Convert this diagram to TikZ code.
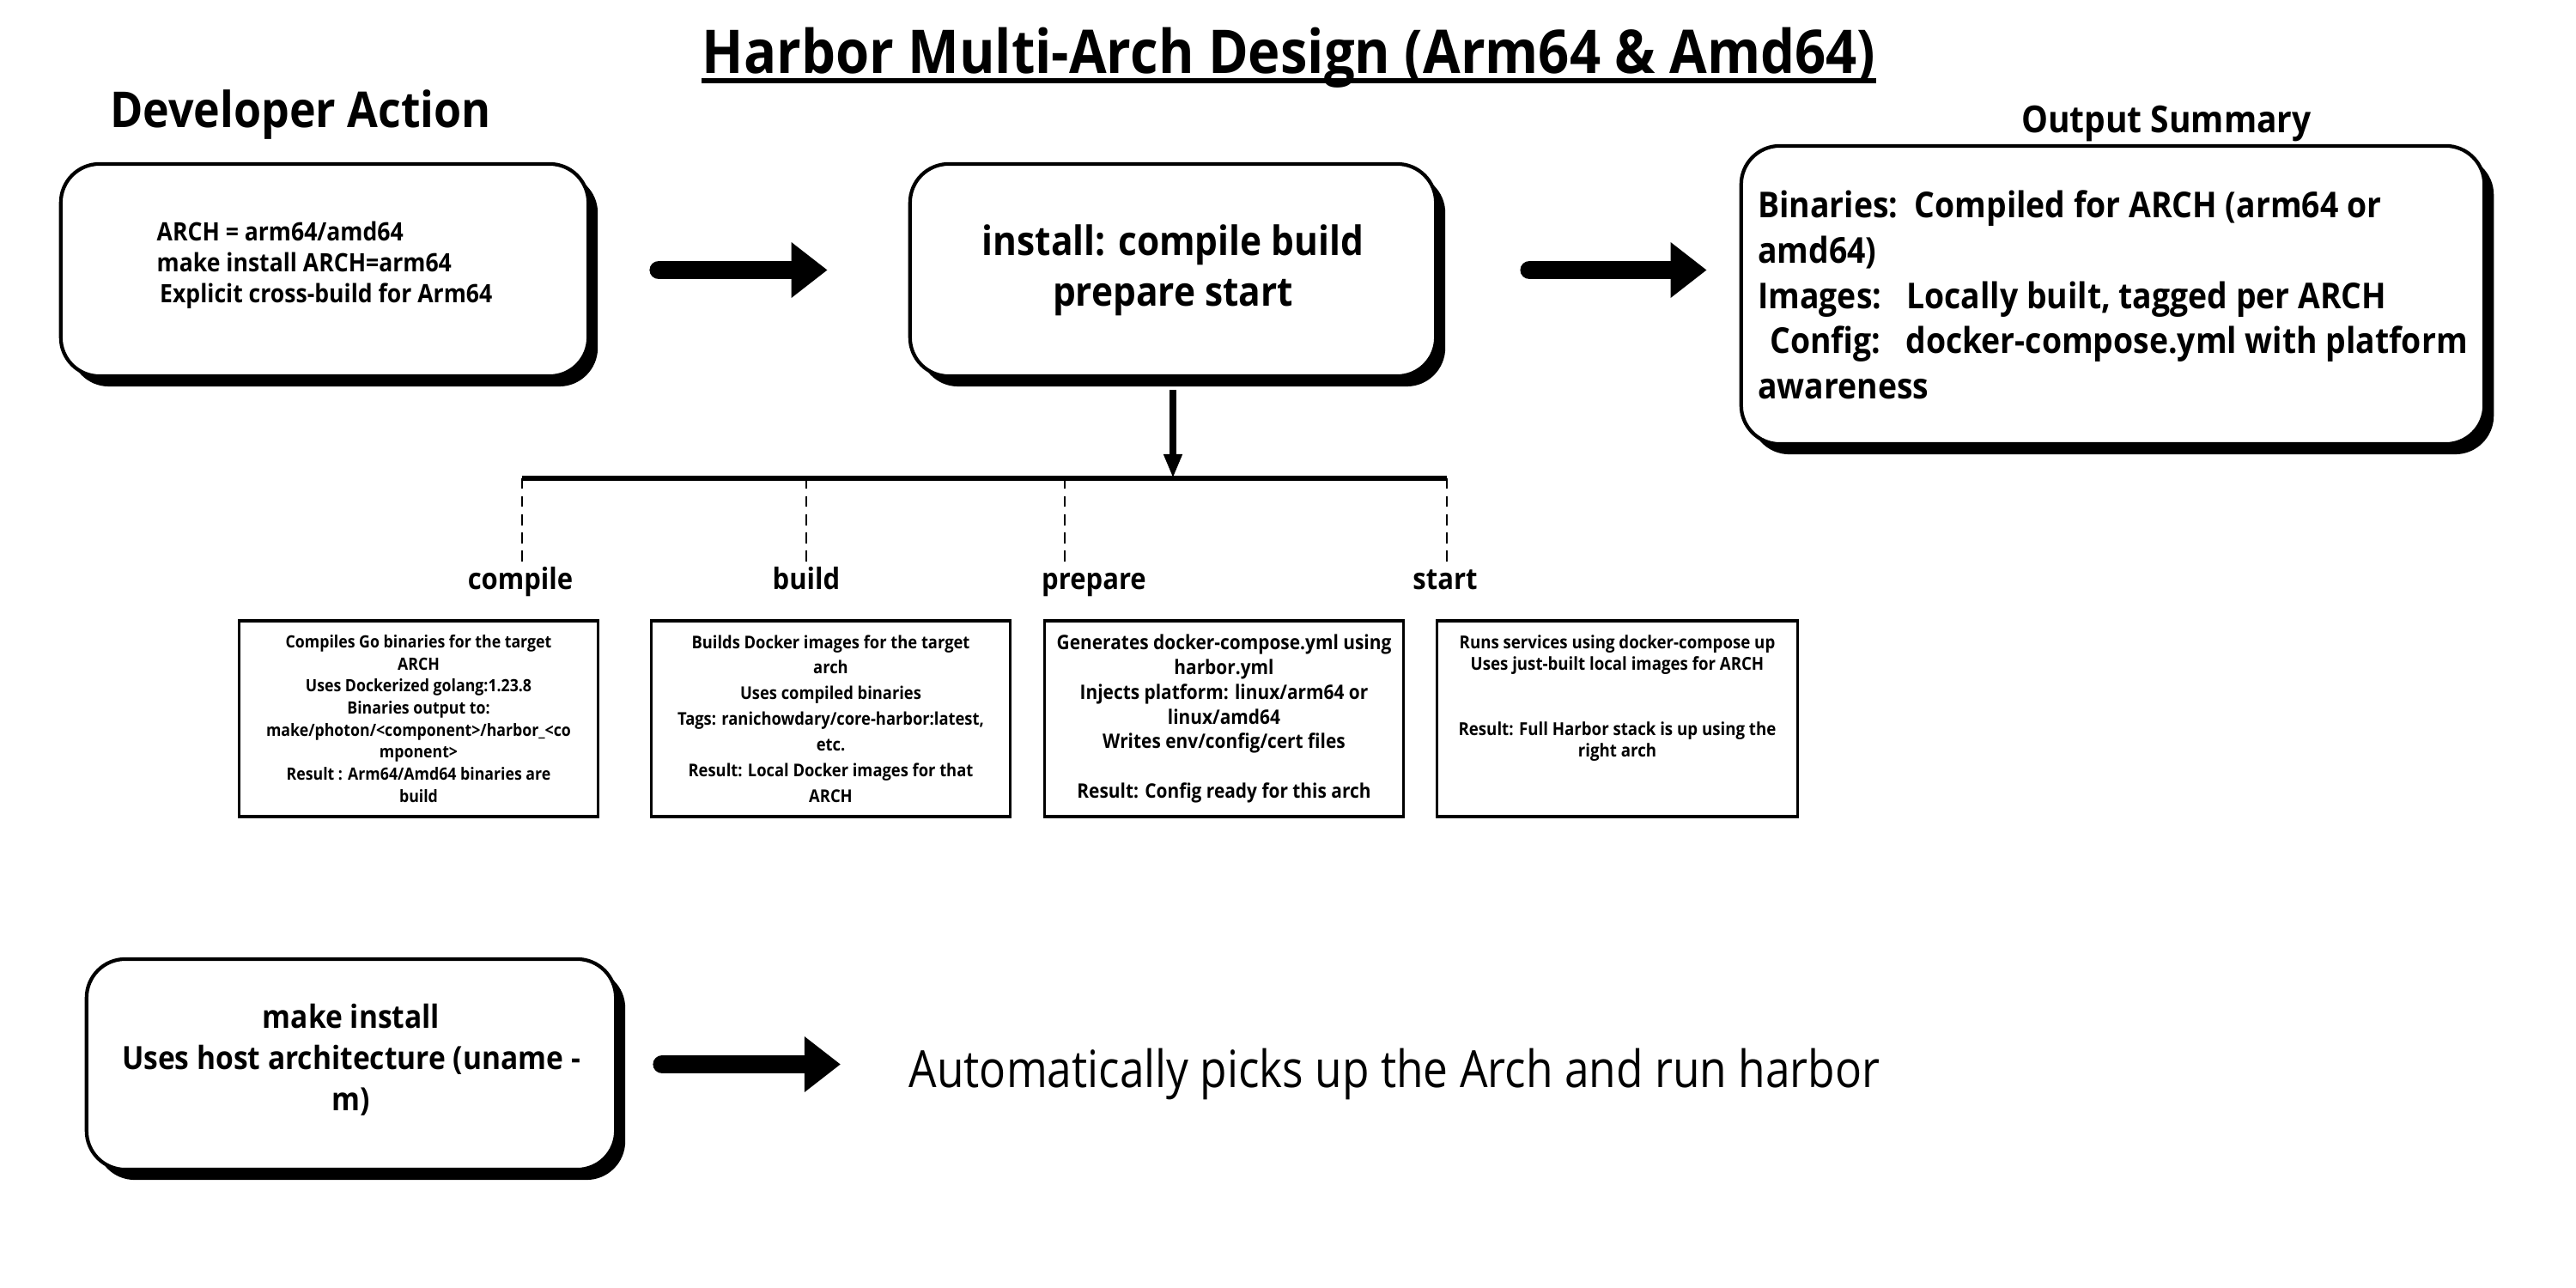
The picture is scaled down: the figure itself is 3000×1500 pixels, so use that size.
\documentclass[tikz,border=0pt]{standalone}
\usepackage{fontspec}
\setmainfont{Open Sans}[FakeStretch=0.9]
\newfontfamily\autofont{Open Sans}[FakeStretch=0.86]
\usetikzlibrary{arrows.meta, positioning, shadows}

\tikzset{
  stepcard/.style={draw, line width=1.2pt, rounded corners=0.45cm, fill=white,
    drop shadow={shadow xshift=0.11cm, shadow yshift=-0.12cm, fill=black, opacity=1}},
  taskbox/.style={draw, line width=0.9pt, minimum width=4.17cm, minimum height=2.28cm,
    align=center, inner sep=2pt, font=\bfseries},
  phase/.style={inner sep=1pt, text height=8pt, text depth=2pt, anchor=north,
    font=\fontsize{9.8}{12}\selectfont\bfseries},
  fatarrow/.style={line width=6.2pt, line cap=round, -{Triangle[length=0.42cm,width=0.62cm]}},
  droparrow/.style={line width=2.3pt, -{Triangle[length=0.28cm,width=0.2cm]}},
  dropline/.style={line width=0.8pt, dash pattern=on 3.5pt off 2.5pt},
}

\begin{document}
\begin{tikzpicture}[x=0.01cm, y=-0.01cm]
        \fill[white] (0,0) rectangle (3000,1500);
        \useasboundingbox (0,0) rectangle (3000,1500);

        % headings
        \node[inner sep=0, anchor=base, font=\fontsize{20}{24}\selectfont\bfseries] (title) at (1501,86) {Harbor Multi-Arch Design (Arm64 \& Amd64)};
        \draw[line width=1.7pt] ([yshift=-2.3pt]title.base west) -- ([yshift=-2.3pt]title.base east);
        \node[inner sep=0, anchor=base, font=\fontsize{16.4}{19}\selectfont\bfseries] (devhead) at (350,149) {Developer Action};
        \node[inner sep=0, anchor=base, font=\fontsize{12.3}{15}\selectfont\bfseries] (sumhead) at (2523,155) {Output Summary};

        % top row
        \node[stepcard, minimum width=6.14cm, minimum height=2.47cm, align=left,
              font=\fontsize{8.4}{10.2}\selectfont\bfseries] (dev) at (378,314.5)
              {ARCH = arm64/amd64\\make install ARCH=arm64\\\hspace*{1pt}Explicit cross-build for Arm64\\[-5pt]~};
        \node[stepcard, minimum width=6.12cm, minimum height=2.47cm, align=center,
              font=\fontsize{13.4}{16.8}\selectfont\bfseries] (install) at (1366,314.5)
              {install: compile build\\prepare start};
        \node[stepcard, minimum width=8.65cm, minimum height=3.47cm, align=left,
              font=\fontsize{11.8}{15}\selectfont\bfseries] (summary) at (2460.5,343.5)
              {Binaries:\ \ Compiled for ARCH (arm64 or\\amd64)\\Images:\ \ \ Locally built, tagged per ARCH\\\hspace*{4pt}Config:\ \ \ docker-compose.yml with platform\\awareness};
        \draw[fatarrow, shorten <=0.8cm, shorten >=0.94cm] (dev.east) -- (install.west);
        \draw[fatarrow, shorten <=1.07cm, shorten >=0.38cm] (install.east) -- (install.east -| summary.west);

        % fan-out to the four steps
        \coordinate (busL) at (608,557);
        \coordinate (busR) at (1685,557);
        \coordinate (tapBuild) at (939,557);
        \coordinate (tapPrepare) at (1240,557);
        \draw[droparrow, shorten <=0.14cm] (install.south) -- (install.south |- busL);
        \draw[line width=1.5pt] (busL) -- (busR);

        \node[phase] (lblCompile) at (606,654) {compile};
        \node[phase] (lblBuild) at (939,654) {build};
        \node[phase] (lblPrepare) at (1274,654) {prepare};
        \node[phase] (lblStart) at (1683,654) {start};
        \draw[dropline] (busL) -- (busL |- lblCompile.north);
        \draw[dropline] (tapBuild) -- (tapBuild |- lblBuild.north);
        \draw[dropline] (tapPrepare) -- (tapPrepare |- lblPrepare.north);
        \draw[dropline] (busR) -- (busR |- lblStart.north);

        % step details
        \node[taskbox, font=\fontsize{5.6}{7.3}\selectfont\bfseries] (compileBox) at (487.5,837)
              {Compiles Go binaries for the target\\ARCH\\Uses Dockerized golang:1.23.8\\Binaries output to:\\make/photon/<component>/harbor\_<co\\mponent>\\Result : Arm64/Amd64 binaries are\\build};
        \node[taskbox, font=\fontsize{5.8}{8.5}\selectfont\bfseries] (buildBox) at (967.5,837)
              {Builds Docker images for the target\\arch\\Uses compiled binaries\\Tags: ranichowdary/core-harbor:latest,\\etc.\\Result: Local Docker images for that\\ARCH};
        \node[taskbox, font=\fontsize{6.6}{8.2}\selectfont\bfseries] (prepareBox) at (1425.5,837)
              {Generates docker-compose.yml using\\harbor.yml\\Injects platform: linux/arm64 or\\linux/amd64\\Writes env/config/cert files\\[8.2pt]Result: Config ready for this arch};
        \node[taskbox, minimum width=4.19cm, font=\fontsize{5.9}{7.2}\selectfont\bfseries] (startBox) at (1883.5,837)
              {Runs services using docker-compose up\\Uses just-built local images for ARCH\\[14.4pt]Result: Full Harbor stack is up using the\\right arch\\[7.8pt]~};

        % host build
        \node[stepcard, minimum width=6.16cm, minimum height=2.45cm, align=center,
              font=\fontsize{10.6}{13.6}\selectfont\bfseries] (host) at (409,1239.5)
              {make install\\Uses host architecture (uname -\\m)\\[-9pt]~};
        \node[inner sep=0, anchor=west, font=\autofont\fontsize{17}{20}\selectfont] (auto) at (1058,1251)
              {Automatically picks up the Arch and run harbor};
        \draw[fatarrow, shorten <=0.52cm, shorten >=0.79cm] (host.east) -- (host.east -| auto.west);
\end{tikzpicture}
\end{document}
